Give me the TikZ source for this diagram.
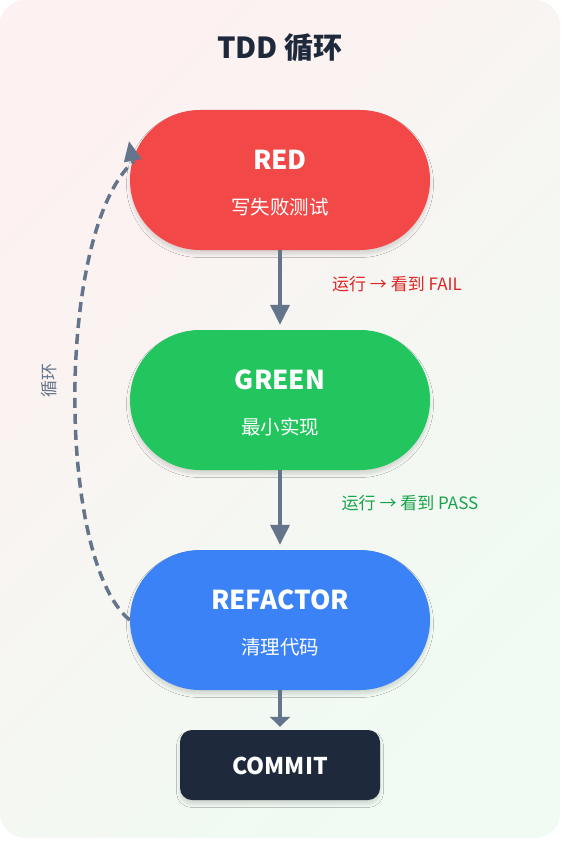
\documentclass[tikz,border=0pt]{standalone}
\usepackage{fontspec}
\setmainfont{Noto Sans CJK SC}
\usetikzlibrary{arrows.meta,shadows.blur}
\definecolor{bgA}{HTML}{FDF1F1}
\definecolor{bgB}{HTML}{EFFBF3}
\definecolor{redc}{HTML}{F24848}
\definecolor{greenc}{HTML}{22C55E}
\definecolor{bluec}{HTML}{3B82F6}
\definecolor{darkc}{HTML}{1E293B}
\definecolor{slatec}{HTML}{64748B}
\definecolor{failc}{HTML}{DC2626}
\definecolor{passc}{HTML}{16A34A}
\tikzset{
  softshadow/.style={blur shadow={shadow blur steps=6, shadow blur radius=3.5pt, shadow xshift=0pt, shadow yshift=-4pt, shadow opacity=14}},
  pill/.style={rounded corners=70pt, minimum width=300pt, minimum height=140pt, inner sep=0pt, draw=none, softshadow},
  ttl/.style={font=\bfseries\fontsize{26}{30}\selectfont, text=white},
  sub/.style={font=\fontsize{19.5}{23}\selectfont, text=white},
  flow/.style={draw=slatec, line width=3.5pt, -{Triangle[length=20pt,width=19pt]}},
  lbl/.style={font=\fontsize{17}{20}\selectfont}
}
\begin{document}
\begin{tikzpicture}[x=1pt,y=-1pt]
\useasboundingbox (0,0) rectangle (560,845);
\shade[shading=axis, left color=bgA, right color=bgB, shading angle=45, rounded corners=25pt] (0,0) rectangle (560,838);
\node (title) at (280,48) {\bfseries\fontsize{29}{33}\selectfont\color{darkc}TDD 循环};
\node[pill, fill=redc] (red) at (280,180) {};
\node[pill, fill=greenc] (green) at (280,400) {};
\node[pill, fill=bluec] (refactor) at (280,620) {};
\node[rounded corners=12pt, minimum width=200pt, minimum height=70pt, fill=darkc, softshadow] (commit) at (280,765) {};
\node[ttl] (redt) at (280,160) {RED};
\node[sub] (reds) at (280,207) {写失败测试};
\node[ttl] (greent) at (280,380) {GREEN};
\node[sub] (greens) at (280,427) {最小实现};
\node[ttl] (reft) at (280,600) {REFACTOR};
\node[sub] (refs) at (280,647) {清理代码};
\node[font=\bfseries\fontsize{23}{26}\selectfont, text=white] (committ) at (280,766) {COMMIT};
\draw[flow, shorten >=5pt] (red.south) -- (green.north);
\draw[flow, shorten >=5pt] (green.south) -- (refactor.north);
\draw[draw=slatec, line width=3.5pt, -{Triangle[length=10pt,width=20pt]}] (refactor.south) -- ([yshift=3pt]commit.north);
\node[lbl, text=failc] (fail) at (397,284) {运行 → 看到 FAIL};
\node[lbl, text=passc] (pass) at (410,503) {运行 → 看到 PASS};
\coordinate (loopturn) at (133,162);
\coordinate (loopend) at (129,141);
\draw[draw=slatec, line width=3.5pt, dash pattern=on 10pt off 6pt, -{Triangle[length=20pt,width=17pt]}] (refactor.west) .. controls (56,560) and (56,232) .. (loopturn) -- (loopend);
\node[lbl, text=slatec, rotate=90] (looplbl) at (49,380) {循环};
\end{tikzpicture}
\end{document}
